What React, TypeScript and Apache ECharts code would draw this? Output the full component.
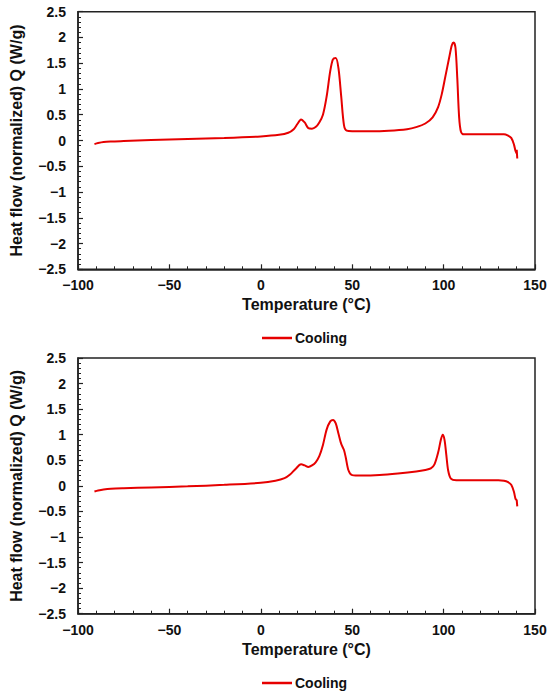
import React, { useEffect, useRef } from "react";
import * as echarts from "echarts";

// Top panel: cooling curve
const tempTop = [-91, -89, -86, -82, -75, -60, -40, -20, 0, 10, 15, 18, 20, 22, 24, 26, 28, 30, 32, 34, 36, 38, 39.5, 41, 42.5, 44, 45.5, 47, 50, 60, 70, 80, 85, 90, 94, 97, 99, 101, 103, 104.5, 105.5, 106.5, 107.5, 108.5, 109.5, 111, 120, 130, 133, 135, 137, 138.5, 139.3, 140, 140, 140.3];
const heatTop = [-0.07, -0.05, -0.03, -0.02, -0.01, 0.01, 0.03, 0.05, 0.08, 0.11, 0.15, 0.22, 0.32, 0.41, 0.35, 0.24, 0.23, 0.26, 0.35, 0.5, 0.85, 1.35, 1.58, 1.6, 1.4, 0.85, 0.3, 0.19, 0.18, 0.18, 0.19, 0.22, 0.26, 0.33, 0.45, 0.65, 0.9, 1.25, 1.6, 1.85, 1.9, 1.8, 1.2, 0.45, 0.17, 0.12, 0.12, 0.12, 0.12, 0.1, 0.05, -0.08, -0.2, -0.25, -0.18, -0.35];

// Bottom panel: cooling curve
const tempBottom = [-91, -89, -86, -82, -75, -60, -40, -20, 0, 8, 13, 16, 19, 22, 24, 26, 28, 30, 32, 34, 36, 38, 39.5, 41, 42.5, 44, 45.5, 46.5, 48, 50, 55, 65, 75, 85, 90, 93, 95, 97, 98.5, 99.5, 100.5, 101.5, 102.5, 104, 107, 120, 130, 133, 135, 137, 138.5, 139.3, 140, 140, 140.3];
const heatBottom = [-0.11, -0.09, -0.07, -0.055, -0.045, -0.03, -0.01, 0.02, 0.06, 0.1, 0.15, 0.22, 0.33, 0.42, 0.4, 0.37, 0.4, 0.46, 0.58, 0.8, 1.1, 1.26, 1.29, 1.22, 1.02, 0.82, 0.7, 0.55, 0.3, 0.21, 0.2, 0.21, 0.24, 0.28, 0.31, 0.34, 0.42, 0.65, 0.9, 1.0, 0.9, 0.6, 0.3, 0.14, 0.11, 0.11, 0.11, 0.1, 0.08, 0.02, -0.12, -0.25, -0.28, -0.27, -0.4];

const xTicks = { min: -100, max: 150, interval: 50 };
const yTicks = { min: -2.5, max: 2.5, interval: 0.5 };
const seriesName = "Cooling";
const xTitle = "Temperature (°C)";
const yTitle = "Heat flow (normalized) Q (W/g)";

const FONT = "'Liberation Sans', Arial, sans-serif";
const RED = "#e60000";
const AXIS = "#222";

const fmt = (v: number) => (v < 0 ? "\u2212" + String(Math.abs(v)) : String(v));

function makeX(gridIndex: number, nameGap: number) {
  return {
    type: "value",
    gridIndex,
    min: xTicks.min,
    max: xTicks.max,
    interval: xTicks.interval,
    name: xTitle,
    nameLocation: "middle",
    nameGap,
    nameTextStyle: { fontFamily: FONT, fontWeight: "bold", fontSize: 16, color: "#111" },
    axisLine: { show: true, onZero: false, lineStyle: { color: AXIS, width: 1.5 } },
    axisTick: { show: true, inside: true, length: 5, lineStyle: { color: AXIS, width: 1.2 } },
    minorTick: { show: true, splitNumber: 5, length: 3, lineStyle: { color: AXIS, width: 1 } },
    splitLine: { show: false },
    axisLabel: { formatter: fmt, fontFamily: FONT, fontWeight: "bold", fontSize: 14, color: "#111", margin: 9 },
  };
}

function makeY(gridIndex: number) {
  return {
    type: "value",
    gridIndex,
    min: yTicks.min,
    max: yTicks.max,
    interval: yTicks.interval,
    name: yTitle,
    nameLocation: "middle",
    nameGap: 54,
    nameRotate: 90,
    nameTextStyle: { fontFamily: FONT, fontWeight: "bold", fontSize: 16, color: "#111" },
    axisLine: { show: true, onZero: false, lineStyle: { color: AXIS, width: 1.5 } },
    axisTick: { show: true, inside: true, length: 5, lineStyle: { color: AXIS, width: 1.2 } },
    minorTick: { show: true, splitNumber: 5, length: 3, lineStyle: { color: AXIS, width: 1 } },
    splitLine: { show: false },
    axisLabel: { formatter: fmt, fontFamily: FONT, fontWeight: "bold", fontSize: 14, color: "#111", margin: 12 },
  };
}

function makeSeries(idx: number, xs: number[], ys: number[]) {
  return {
    type: "line",
    name: seriesName,
    xAxisIndex: idx,
    yAxisIndex: idx,
    data: xs.map((t, i) => [t, ys[i]]),
    showSymbol: false,
    smooth: 0.3,
    lineStyle: { color: RED, width: 2 },
    itemStyle: { color: RED },
  };
}

export default function App() {
  const ref = useRef<HTMLDivElement>(null);
  useEffect(() => {
    if (!ref.current) return;
    const chart = echarts.init(ref.current, undefined, { renderer: "svg" });
    const legendBase = {
      data: [seriesName],
      left: 257,
      icon: "rect",
      itemWidth: 30,
      itemHeight: 2.5,
      itemGap: 4,
      textStyle: { fontFamily: FONT, fontWeight: "bold", fontSize: 14, color: "#111", padding: [0, 0, 0, -2] },
    };
    chart.setOption({
      animation: false,
      backgroundColor: "#fff",
      grid: [
        { left: 76.7, top: 11.7, width: 458.3, height: 257.6, show: true, borderColor: AXIS, borderWidth: 1.5, backgroundColor: "transparent" },
        { left: 76.7, top: 358, width: 458.3, height: 255.7, show: true, borderColor: AXIS, borderWidth: 1.5, backgroundColor: "transparent" },
      ],
      xAxis: [makeX(0, 27), makeX(1, 28)],
      yAxis: [makeY(0), makeY(1)],
      legend: [
        { ...legendBase, top: 326 },
        { ...legendBase, top: 671 },
      ],
      series: [makeSeries(0, tempTop, heatTop), makeSeries(1, tempBottom, heatBottom)],
    });
    return () => chart.dispose();
  }, []);
  return (
    <div
      ref={ref}
      style={{ position: "fixed", left: 0, top: 0, width: 550, height: 692, background: "#fff" }}
    />
  );
}
